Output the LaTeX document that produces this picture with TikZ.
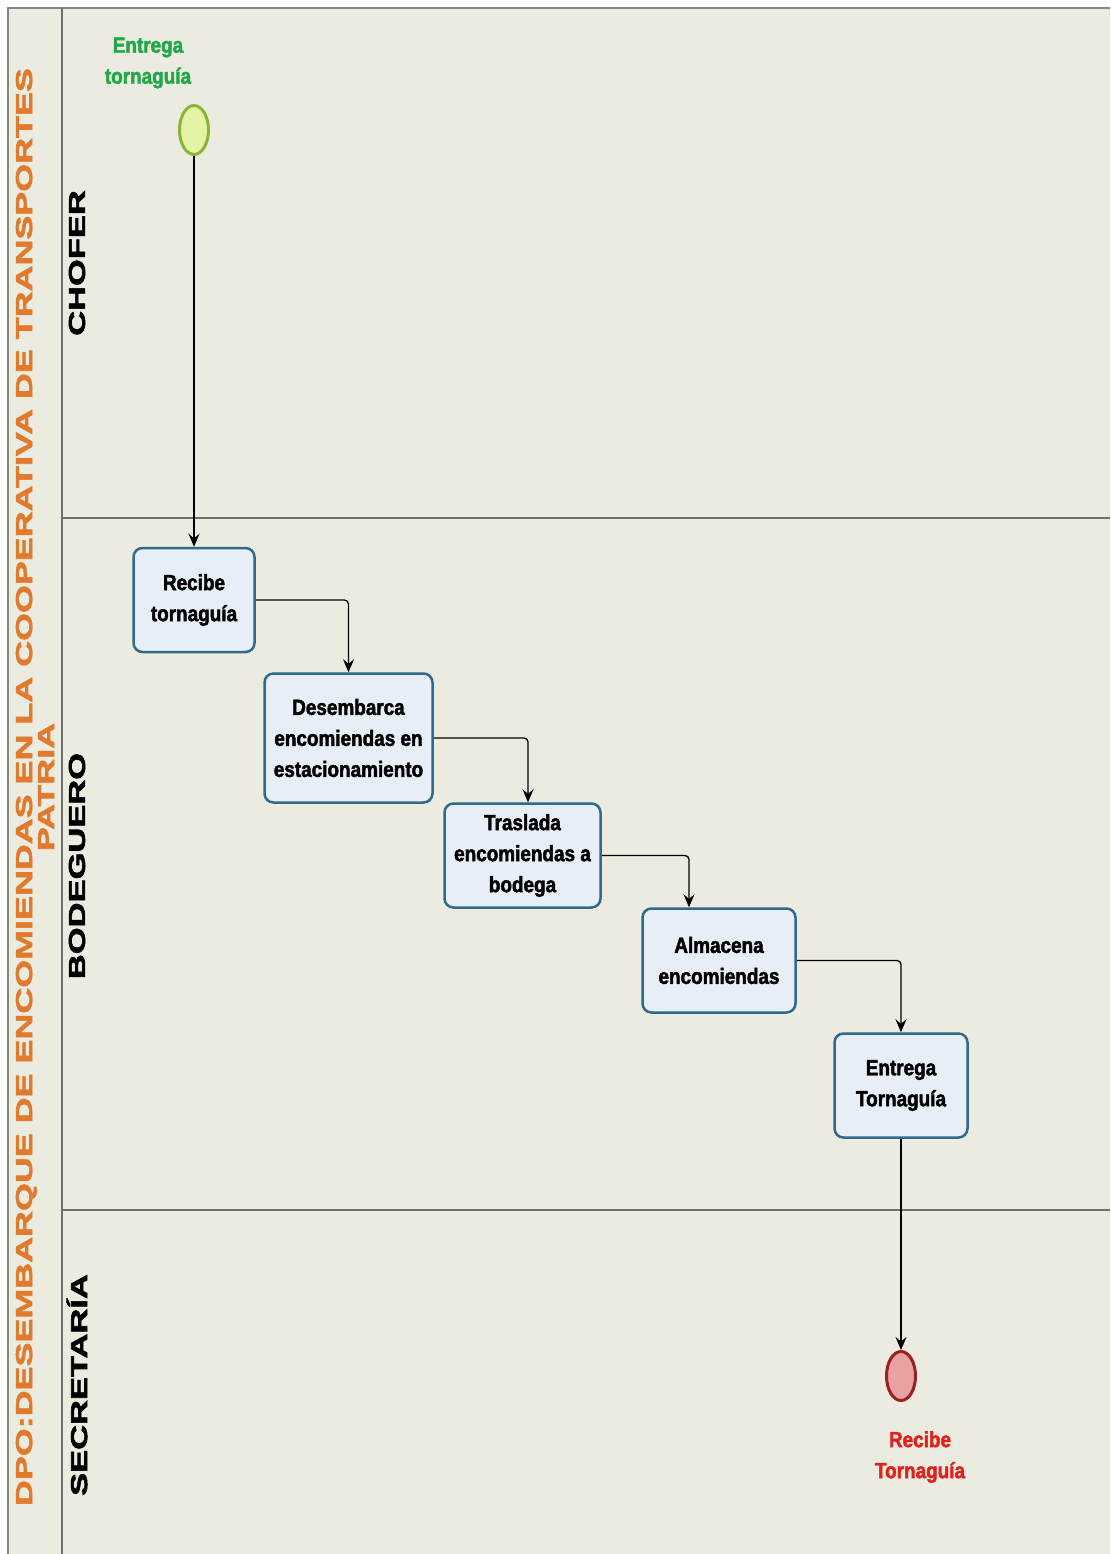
\documentclass[tikz,border=0pt]{standalone}
\usepackage{fontspec}
\setmainfont{Liberation Sans}
\newfontfamily\narrowfont{Liberation Sans}[FakeStretch=0.86, BoldFeatures={FakeBold=2}]
\newfontfamily\widefont{Liberation Sans}[FakeStretch=1.5, BoldFeatures={FakeBold=2.6}]
\newfontfamily\titlefont{Liberation Sans}[FakeStretch=1.56, BoldFeatures={FakeBold=2.6}]
\usetikzlibrary{shapes.geometric,arrows.meta}

\definecolor{poolbg}{HTML}{ECEBE0}
\definecolor{laneline}{HTML}{6E6E6E}
\definecolor{frameline}{HTML}{858585}
\definecolor{titleorange}{HTML}{E27A2E}
\definecolor{boxblue}{HTML}{2F6A8C}
\definecolor{boxfill}{HTML}{E8EEF8}
\definecolor{startfill}{HTML}{E4F4A2}
\definecolor{startdraw}{HTML}{8AB43C}
\definecolor{endfill}{HTML}{E8A2A2}
\definecolor{enddraw}{HTML}{9E1E22}
\definecolor{startgreen}{HTML}{22A84A}
\definecolor{endred}{HTML}{E3201B}

\tikzset{
  taskbox/.style={draw=boxblue, line width=2.5pt, fill=boxfill, rounded corners=9pt,
    align=center, inner sep=0pt,
    font=\narrowfont\bfseries\fontsize{22}{31}\selectfont},
  startevent/.style={ellipse, draw=startdraw, fill=startfill, line width=3pt,
    minimum width=29pt, minimum height=49pt, inner sep=0pt},
  endevent/.style={ellipse, draw=enddraw, fill=endfill, line width=3pt,
    minimum width=29pt, minimum height=49pt, inner sep=0pt},
  eventlabel/.style={align=center, font=\narrowfont\bfseries\fontsize{22}{31}\selectfont},
  lanelabel/.style={rotate=90, font=\widefont\bfseries\fontsize{23}{26}\selectfont},
  flow/.style={draw=black, line width=1.3pt, rounded corners=4pt,
    -{Stealth[length=13pt,width=11pt,inset=4.5pt]}},
  laneborder/.style={draw=laneline, line width=1.5pt},
}

\begin{document}
\begin{tikzpicture}[x=1pt, y=-1pt]
  % page area and pool background
  \useasboundingbox (0,0) rectangle (1110,1554);
  \fill[white] (0,0) rectangle (1110,1554);
  \fill[poolbg] (8,8) rectangle (1110,1554);

  % pool frame and lanes
  \draw[frameline, line width=2.5pt] (8,1554) -- (8,8) -- (1110,8);
  \draw[laneborder] (62,8) -- (62,1554);
  \draw[laneborder] (62,518) -- (1110,518);
  \draw[laneborder] (62,1210) -- (1110,1210);

  % pool title
  \node[rotate=90, align=center, text=titleorange,
        font=\titlefont\bfseries\fontsize{23}{22}\selectfont] (pooltitle) at (35,787)
    {DPO:DESEMBARQUE DE ENCOMIENDAS EN LA COOPERATIVA DE TRANSPORTES\\PATRIA};

  % lane titles
  \node[lanelabel] (lanechofer) at (77,263) {CHOFER};
  \node[lanelabel] (lanebodeguero) at (77,866) {BODEGUERO};
  \node[lanelabel] (lanesecretaria) at (77,1385) {SECRETARÍA};

  % events
  \node[startevent] (start) at (194,130) {};
  \node[eventlabel, text=startgreen] (startlabel) at (148,63) {Entrega\\tornaguía};
  \node[endevent] (finish) at (901,1376) {};
  \node[eventlabel, text=endred] (finishlabel) at (920,1457) {Recibe\\Tornaguía};

  % tasks
  \node[taskbox, minimum width=121pt, minimum height=104pt] (recibe) at (194,600)
    {Recibe\\tornaguía};
  \node[taskbox, minimum width=168pt, minimum height=129pt] (desem) at (348.5,738)
    {Desembarca\\encomiendas en\\estacionamiento};
  \node[taskbox, minimum width=156pt, minimum height=104pt] (trasl) at (522.5,855.5)
    {Traslada\\encomiendas a\\bodega};
  \node[taskbox, minimum width=153pt, minimum height=104pt] (alma) at (719,960.5)
    {Almacena\\encomiendas};
  \node[taskbox, minimum width=133pt, minimum height=104pt] (entrega) at (901,1085.5)
    {Entrega\\Tornaguía};

  % sequence flows
  \draw[flow] (start.south) -- (recibe.north);
  \draw[flow] (recibe.east) -| (desem.north);
  \draw[flow] (desem.east) -| ([xshift=5.5pt]trasl.north);
  \draw[flow] (trasl.east) -| ([xshift=-30pt]alma.north);
  \draw[flow] (alma.east) -| (entrega.north);
  \draw[flow] (entrega.south) -- (finish.north);
\end{tikzpicture}
\end{document}
